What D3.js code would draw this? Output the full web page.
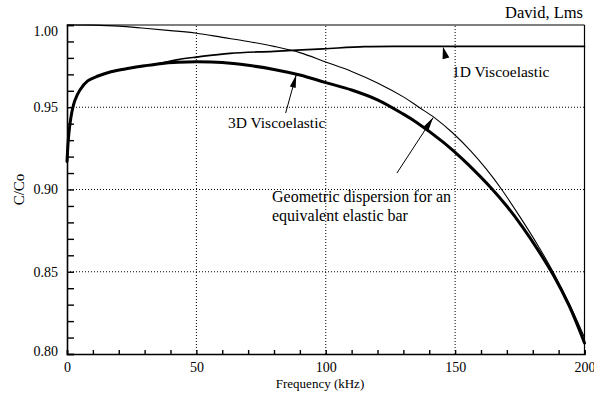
<!DOCTYPE html>
<html>
<head>
<meta charset="utf-8">
<script src="https://cdn.jsdelivr.net/npm/d3@7"></script>
<style>
  body { margin: 0; background: #fff; }
  svg { display: block; }
  svg text { font-family: "Liberation Serif", "Times New Roman", Times, serif; fill: #000; }
</style>
</head>
<body>
<svg id="chart" width="594" height="394"></svg>
<script>
// Phase velocity ratio C/Co against frequency (kHz)
const SERIF = "'Liberation Serif', 'Times New Roman', Times, serif";

// Geometric dispersion for an equivalent elastic bar
const geoFreq  = [0, 10, 20, 30, 40, 50, 60, 70, 80, 90, 100, 110, 120, 130, 136, 142, 149, 156, 162, 168, 175, 182, 188, 194, 200];
const geoRatio = [1.000, 0.9999, 0.9993, 0.998, 0.9966, 0.995, 0.9925, 0.990, 0.987, 0.9832, 0.9775, 0.9718, 0.9648, 0.9563, 0.950, 0.9437, 0.9345, 0.9235, 0.9125, 0.900, 0.8835, 0.866, 0.8495, 0.831, 0.810];

// 1D viscoelastic model
const visc1Freq  = [0, 0.5, 1, 2, 3, 5, 8, 12, 17, 24, 30, 36, 43, 50, 63, 80, 99, 115, 130, 150, 175, 200];
const visc1Ratio = [0.917, 0.930, 0.938, 0.948, 0.954, 0.9605, 0.966, 0.969, 0.9716, 0.9737, 0.9752, 0.9767, 0.979, 0.9805, 0.9828, 0.984, 0.9855, 0.9868, 0.9870, 0.9870, 0.9870, 0.9870];

// 3D viscoelastic model
const visc3Freq  = [0, 0.5, 1, 2, 3, 5, 8, 12, 17, 24, 30, 36, 43, 50, 60, 70, 80, 90, 100, 110, 120, 130, 135, 145, 150, 155, 164, 170, 176, 182, 188, 194, 200];
const visc3Ratio = [0.917, 0.930, 0.938, 0.948, 0.954, 0.9605, 0.966, 0.969, 0.9716, 0.9737, 0.9752, 0.9765, 0.9773, 0.9776, 0.9772, 0.9755, 0.973, 0.9696, 0.965, 0.9605, 0.9545, 0.9458, 0.9409, 0.9293, 0.9226, 0.9153, 0.9008, 0.8898, 0.8773, 0.8633, 0.8478, 0.8295, 0.8067];

// Axis ticks
const xMajorTicks = [0, 50, 100, 150, 200];
const xMinorTicks = d3.range(0, 201, 10);
const yMajorTicks = [0.80, 0.85, 0.90, 0.95, 1.00];
const yMinorTicks = d3.range(80, 101, 1).map(v => v / 100);

const svg = d3.select("#chart");
const margin = { left: 67, right: 9.5, top: 25, bottom: 40 };
const W = 594, H = 394;

const x = d3.scaleLinear().domain([0, 200]).range([margin.left, W - margin.right]);
const y = d3.scaleLinear().domain([0.80, 1.00]).range([H - margin.bottom, margin.top]);

// Dotted grid at major ticks
const grid = svg.append("g").attr("stroke", "#000").attr("stroke-width", 1).attr("stroke-dasharray", "1,2");
grid.selectAll("line.v").data(xMajorTicks.slice(1, -1)).join("line")
  .attr("x1", d => x(d)).attr("x2", d => x(d))
  .attr("y1", y(0.80)).attr("y2", y(1.00));
grid.selectAll("line.h").data(yMajorTicks.slice(1, -1)).join("line")
  .attr("x1", x(0)).attr("x2", x(200))
  .attr("y1", d => y(d)).attr("y2", d => y(d));

// Frame: top and right
svg.append("line").attr("x1", x(0)).attr("x2", x(200)).attr("y1", y(1)).attr("y2", y(1))
  .attr("stroke", "#000").attr("stroke-width", 1.2);
svg.append("line").attr("x1", x(200)).attr("x2", x(200)).attr("y1", y(1)).attr("y2", y(0.8))
  .attr("stroke", "#000").attr("stroke-width", 1.2);

// Inward minor ticks
const yTickAxis = svg.append("g").attr("transform", `translate(${x(0)},0)`)
  .call(d3.axisRight(y).tickValues(yMinorTicks).tickSize(7).tickFormat(""));
const xTickAxis = svg.append("g").attr("transform", `translate(0,${y(0.8)})`)
  .call(d3.axisTop(x).tickValues(xMinorTicks).tickSize(4).tickFormat(""));
[yTickAxis, xTickAxis].forEach(g => {
  g.select(".domain").attr("stroke-width", 1.6);
  g.selectAll(".tick line").attr("stroke-width", 1.4);
});

// Tick labels
const yLabelAxis = svg.append("g").attr("transform", `translate(${x(0)},0)`)
  .call(d3.axisLeft(y).tickValues(yMajorTicks).tickSize(0).tickPadding(9).tickFormat(d3.format(".2f")));
yLabelAxis.attr("font-family", SERIF).select(".domain").remove();
yLabelAxis.selectAll("text").attr("font-size", 14).attr("font-family", SERIF)
  .attr("dy", d => d === 1.00 ? "0.72em" : (d === 0.80 ? "0.12em" : "0.32em"));

const xLabelAxis = svg.append("g").attr("transform", `translate(0,${y(0.8)})`)
  .call(d3.axisBottom(x).tickValues(xMajorTicks).tickSize(0).tickPadding(8).tickFormat(d3.format("d")));
xLabelAxis.attr("font-family", SERIF).select(".domain").remove();
xLabelAxis.selectAll("text").attr("font-size", 14).attr("font-family", SERIF);

function label(px, py, txt, size, anchor) {
  return svg.append("text").attr("x", px).attr("y", py)
    .attr("text-anchor", anchor || "start")
    .attr("font-family", SERIF).attr("font-size", size).text(txt);
}

// Axis titles
label(320, 388, "Frequency (kHz)", 13, "middle");
svg.append("text").attr("transform", `translate(23.5,${(y(0.8) + y(1)) / 2}) rotate(-90)`)
  .attr("text-anchor", "middle").attr("font-family", SERIF).attr("font-size", 15).text("C/Co");
label(583, 18, "David, Lms", 16.5, "end");

// Curves
const line = d3.line().x(d => x(d[0])).y(d => y(d[1])).curve(d3.curveCatmullRom.alpha(0.5));
const plot = svg.append("g").attr("fill", "none").attr("stroke", "#000")
  .attr("stroke-linejoin", "round").attr("stroke-linecap", "round");
plot.append("path").datum(d3.zip(geoFreq, geoRatio)).attr("d", line).attr("stroke-width", 1.1);
plot.append("path").datum(d3.zip(visc1Freq, visc1Ratio)).attr("d", line).attr("stroke-width", 1.7);
plot.append("path").datum(d3.zip(visc3Freq, visc3Ratio)).attr("d", line).attr("stroke-width", 3);

// Annotation arrows: [tailFreq, tailRatio] -> [tipFreq, tipRatio]
function arrow(tail, tip, headLen, headW, drawShaft) {
  const x0 = x(tail[0]), y0 = y(tail[1]), x1 = x(tip[0]), y1 = y(tip[1]);
  const a = Math.atan2(y1 - y0, x1 - x0);
  if (drawShaft) {
    svg.append("line").attr("x1", x0).attr("y1", y0).attr("x2", x1).attr("y2", y1)
      .attr("stroke", "#000").attr("stroke-width", 1);
  }
  const bx = x1 - headLen * Math.cos(a), by = y1 - headLen * Math.sin(a);
  const px = Math.sin(a) * headW / 2, py = -Math.cos(a) * headW / 2;
  svg.append("path")
    .attr("d", `M${x1},${y1}L${bx + px},${by + py}L${bx - px},${by - py}Z`)
    .attr("fill", "#000");
}

label(452, 77, "1D Viscoelastic", 15.5);
arrow([146.5, 0.9795], [145.3, 0.9868], 12, 7, false);

label(228, 128, "3D Viscoelastic", 15.5);
arrow([84.5, 0.9465], [88.6, 0.9698], 13, 6, true);

label(272, 202, "Geometric dispersion for an", 16);
label(272, 221, "equivalent elastic bar", 16);
arrow([127.5, 0.910], [141.5, 0.9437], 13, 6, true);
</script>
</body>
</html>
